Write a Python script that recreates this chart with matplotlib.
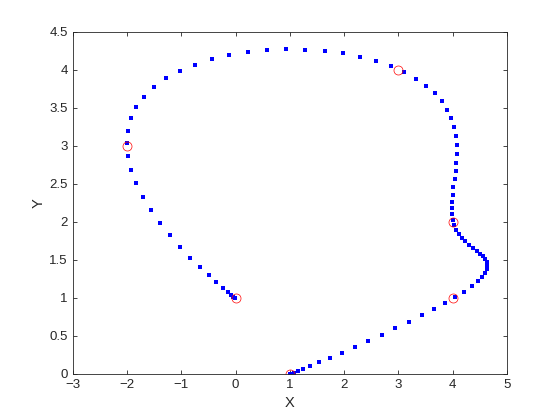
import matplotlib
matplotlib.use("Agg")
import matplotlib.pyplot as plt

plt.rcParams["font.family"] = ["Liberation Sans", "DejaVu Sans"]

# control points (red circles)
ctrl_x = [0, -2, 3, 4, 4, 1]
ctrl_y = [1, 3, 4, 2, 1, 0]

# curve samples (blue dots)
curve_x = [
    -0.006, -0.043, -0.080, -0.135, -0.227, -0.357, -0.486, -0.652, -0.837,
    -1.022, -1.207, -1.392, -1.558, -1.706, -1.835, -1.928, -1.983, -2.002,
    -1.983, -1.928, -1.835, -1.688, -1.503, -1.281, -1.022, -0.745, -0.431,
    -0.116, 0.235, 0.586, 0.937, 1.288, 1.640, 1.972, 2.287, 2.582, 2.860,
    3.100, 3.322, 3.506, 3.673, 3.802, 3.895, 3.969, 4.024, 4.061, 4.080,
    4.080, 4.061, 4.061, 4.043, 4.006, 4.006, 3.987, 3.987, 3.987, 4.006,
    4.024, 4.061, 4.117, 4.172, 4.228, 4.301, 4.375, 4.449, 4.505, 4.560,
    4.597, 4.634, 4.634, 4.634, 4.597, 4.542, 4.468, 4.357, 4.209, 4.043,
    3.858, 3.654, 3.433, 3.192, 2.933, 2.693, 2.434, 2.194, 1.954, 1.732,
    1.547, 1.381, 1.251, 1.159, 1.080, 1.035, 1.000,
]
curve_y = [
    0.999, 1.012, 1.039, 1.078, 1.131, 1.209, 1.301, 1.407, 1.525,
    1.670, 1.827, 1.985, 2.156, 2.327, 2.511, 2.682, 2.866, 3.037,
    3.194, 3.365, 3.510, 3.641, 3.773, 3.891, 3.983, 4.062, 4.141,
    4.194, 4.233, 4.259, 4.272, 4.259, 4.246, 4.220, 4.167, 4.115, 4.049,
    3.970, 3.878, 3.786, 3.694, 3.589, 3.471, 3.365, 3.247, 3.129, 3.010,
    2.892, 2.774, 2.669, 2.563, 2.458, 2.353, 2.261, 2.182, 2.103, 2.024,
    1.959, 1.893, 1.840, 1.788, 1.748, 1.696, 1.656, 1.617, 1.577, 1.551,
    1.512, 1.472, 1.420, 1.380, 1.328, 1.275, 1.223, 1.157, 1.078, 1.012,
    0.933, 0.854, 0.776, 0.684, 0.605, 0.513, 0.434, 0.355, 0.276, 0.210,
    0.158, 0.105, 0.066, 0.039, 0.012, 0.003, 0.000,
]

fig = plt.figure(figsize=(5.6, 4.2), dpi=100)
ax = fig.add_axes([0.13, 0.11, 0.775, 0.815])

ax.plot(curve_x, curve_y, linestyle="none", marker="s", markersize=2.2,
        color="blue", markeredgewidth=0)
ax.plot(ctrl_x, ctrl_y, linestyle="none", marker="o", markersize=6.5,
        markerfacecolor="none", markeredgecolor="red", markeredgewidth=0.5)

ax.set_xlim(-3, 5)
ax.set_ylim(0, 4.5)
ax.set_xticks(range(-3, 6))
ax.set_yticks([0, 0.5, 1, 1.5, 2, 2.5, 3, 3.5, 4, 4.5])
ax.set_yticklabels(["0", "0.5", "1", "1.5", "2", "2.5", "3", "3.5", "4", "4.5"])

dark = (0.15, 0.15, 0.15)
ax.tick_params(direction="in", top=True, right=True, length=3.2, width=0.6,
               colors=dark, labelsize=9.5)
for s in ax.spines.values():
    s.set_color(dark)
    s.set_linewidth(0.6)

ax.set_xlabel("X", fontsize=10.5, color=dark, labelpad=4)
ax.set_ylabel("Y", fontsize=10.5, color=dark, labelpad=3)

fig.savefig("out.png", dpi=100)
